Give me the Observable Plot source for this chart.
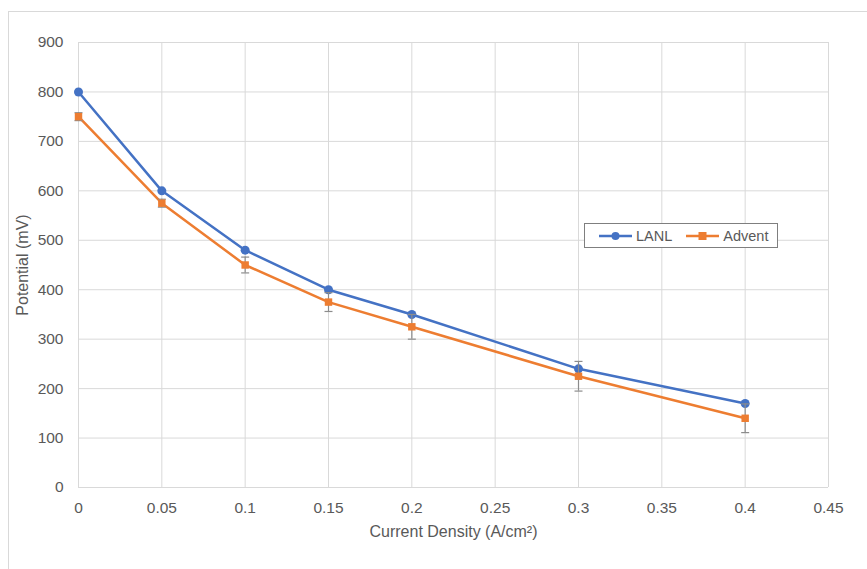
<!DOCTYPE html>
<html>
<head>
<meta charset="utf-8">
<script src="https://cdn.jsdelivr.net/npm/d3@7"></script>
<script src="https://cdn.jsdelivr.net/npm/@observablehq/plot@0.6"></script>
<style>
  body { margin: 0; background: #fff; font-family: "Liberation Sans", Arial, sans-serif; }
  #wrap { position: relative; width: 867px; height: 569px; overflow: hidden; }
  #frame { position: absolute; left: 8px; top: 11px; width: 900px; height: 600px; border: 1px solid #d9d9d9; box-sizing: border-box; }
  #chart { position: absolute; left: 0; top: 0; }
  #legend { position: absolute; left: 584px; top: 223px; width: 194px; height: 25px; border: 1px solid #7f7f7f; box-sizing: border-box; background: #fff;
    display: flex; align-items: center; justify-content: flex-start; padding-left: 14px; gap: 14px; font-size: 14.5px; color: #595959; }
  .item { display: flex; align-items: center; gap: 4px; }
</style>
</head>
<body>
<div id="wrap">
  <div id="frame"></div>
  <div id="chart"></div>
  <div id="legend"></div>
</div>
<script>
const currentDensity = [0, 0.05, 0.1, 0.15, 0.2, 0.3, 0.4];
const lanl = [800, 600, 480, 400, 350, 240, 170];
const advent = [750, 575, 450, 375, 325, 225, 140];
const adventErr = [8, 8, 16, 19, 25, 30, 29];
const seriesNames = ["LANL", "Advent"];
const seriesColors = ["#4472C4", "#ED7D31"];
const xTicks = [0, 0.05, 0.1, 0.15, 0.2, 0.25, 0.3, 0.35, 0.4, 0.45];
const yTicks = [0, 100, 200, 300, 400, 500, 600, 700, 800, 900];

const lanlData = currentDensity.map((x, i) => ({x, y: lanl[i]}));
const adventData = currentDensity.map((x, i) => ({x, y: advent[i], lo: advent[i] - adventErr[i], hi: advent[i] + adventErr[i]}));

const capSymbol = {
  draw(context, size) {
    const r = 4;
    context.moveTo(-r, 0);
    context.lineTo(r, 0);
  }
};

const chart = Plot.plot({
  width: 867,
  height: 569,
  marginLeft: 78,
  marginRight: 39,
  marginTop: 42,
  marginBottom: 82,
  style: {fontFamily: "Liberation Sans, Arial, sans-serif", fontSize: "15px", color: "#595959", background: "transparent"},
  x: {domain: [0, 0.45], ticks: xTicks},
  y: {domain: [0, 900], ticks: yTicks},
  marks: [
    Plot.gridX(xTicks, {stroke: "#d9d9d9", strokeOpacity: 1, strokeWidth: 1}),
    Plot.gridY(yTicks, {stroke: "#d9d9d9", strokeOpacity: 1, strokeWidth: 1}),
    Plot.axisX(xTicks, {tickSize: 0, tickPadding: 14, fill: "#595959", fontSize: 15.5,
      tickFormat: d => String(+d.toFixed(2)),
      label: null}),
    Plot.axisY(yTicks, {tickSize: 0, tickPadding: 15, fill: "#595959", fontSize: 15.5,
      label: null}),
    Plot.text(["Current Density (A/cm²)"], {frameAnchor: "bottom", textAnchor: "middle", dy: 49, fill: "#595959", fontSize: 16}),
    Plot.text(["Potential (mV)"], {frameAnchor: "left", textAnchor: "middle", dx: -56, rotate: -90, fill: "#595959", fontSize: 16}),
    Plot.line(lanlData, {x: "x", y: "y", stroke: seriesColors[0], strokeWidth: 2.5}),
    Plot.dot(lanlData, {x: "x", y: "y", fill: seriesColors[0], r: 4.5, symbol: "circle"}),
    Plot.line(adventData, {x: "x", y: "y", stroke: seriesColors[1], strokeWidth: 2.5}),
    Plot.ruleX(adventData, {x: "x", y1: "lo", y2: "hi", stroke: "#8c8c8c", strokeWidth: 1.2}),
    Plot.dot(adventData, {x: "x", y: "lo", symbol: capSymbol, stroke: "#8c8c8c", strokeWidth: 1.2, fill: "none"}),
    Plot.dot(adventData, {x: "x", y: "hi", symbol: capSymbol, stroke: "#8c8c8c", strokeWidth: 1.2, fill: "none"}),
    Plot.dot(adventData, {x: "x", y: "y", fill: seriesColors[1], r: 4.2, symbol: "square"})
  ]
});
document.getElementById("chart").appendChild(chart);

const legend = document.getElementById("legend");
seriesNames.forEach((name, i) => {
  const item = document.createElement("div");
  item.className = "item";
  const marker = i === 0
    ? `<circle cx="16.5" cy="5" r="4" fill="${seriesColors[i]}"/>`
    : `<rect x="12.5" y="1" width="8" height="8" fill="${seriesColors[i]}"/>`;
  item.innerHTML = `<svg width="33" height="10"><line x1="0" x2="33" y1="5" y2="5" stroke="${seriesColors[i]}" stroke-width="2.5"/>${marker}</svg><span>${name}</span>`;
  legend.appendChild(item);
});
</script>
</body>
</html>
